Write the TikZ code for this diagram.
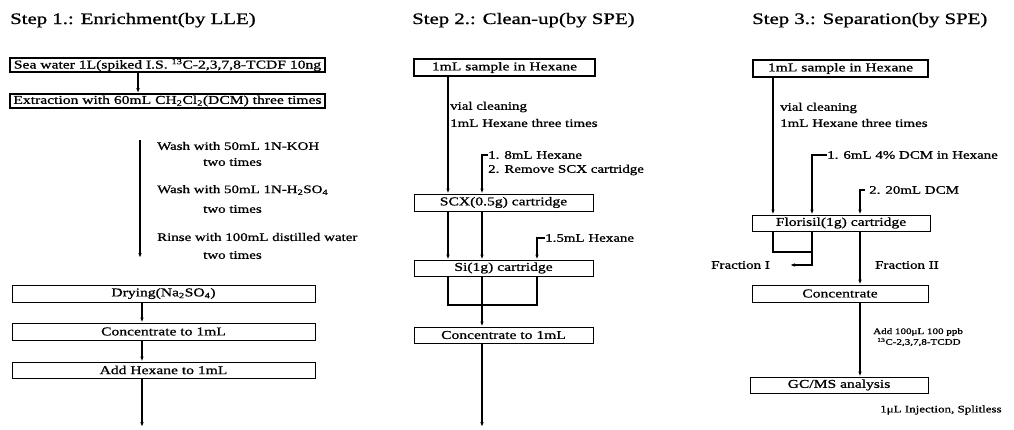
\documentclass[tikz,border=0pt]{standalone}
\usepackage{fontspec}
\setmainfont{Liberation Serif}[FakeStretch=1.3,FakeBold=1]
\usetikzlibrary{arrows.meta}
\begin{document}
\begin{tikzpicture}[x=1pt,y=-1pt,
  box/.style={draw,line width=1pt,inner sep=0pt,font=\fontsize{12}{12}\selectfont},
  tbox/.style={box,line width=1.8pt},
  lbl/.style={inner sep=0pt,anchor=west,font=\fontsize{11.5}{12}\selectfont},
  small/.style={inner sep=0pt,anchor=west,font=\fontsize{8.5}{9}\selectfont},
  ttl/.style={inner sep=0pt,anchor=base west,font=\fontsize{16}{16}\selectfont},
  ln/.style={line width=1.4pt},
  arr/.style={ln,-{Latex[length=5pt,width=3.6pt]}}]
\useasboundingbox (0,0) rectangle (1014,429);
% column coordinates
\coordinate (X138) at (138,0);
\coordinate (X142) at (142,0);
\coordinate (C2a) at (448,0);
\coordinate (C2b) at (482,0);
\coordinate (C2c) at (537,0);
\coordinate (C3a) at (773,0);
\coordinate (C3b) at (812,0);
\coordinate (C3c) at (860,0);
\coordinate (J) at (0,305);
\coordinate (K) at (0,252);
% ---------- Step 1
\node[ttl] (t1) at (10,24) {Step 1.: Enrichment(by LLE)};
\node[tbox,minimum width=315pt,minimum height=14pt] (s1a) at (167.5,65)
  {Sea water 1L(spiked I.S. \textsuperscript{13}C-2,3,7,8-TCDF 10ng};
\node[tbox,minimum width=315pt,minimum height=14pt] (s1b) at (167.5,101)
  {Extraction with 60mL CH\textsubscript{2}Cl\textsubscript{2}(DCM) three times};
\coordinate (w1) at (140,140);
\coordinate (w2) at (140,258);
\node[lbl] (wa1) at (157,146) {Wash with 50mL 1N-KOH};
\node[lbl] (wa2) at (203,162) {two times};
\node[lbl] (wb1) at (157,190) {Wash with 50mL 1N-H\textsubscript{2}SO\textsubscript{4}};
\node[lbl] (wb2) at (203,209) {two times};
\node[lbl] (wc1) at (157,237) {Rinse with 100mL distilled water};
\node[lbl] (wc2) at (203,255) {two times};
\node[box,minimum width=303pt,minimum height=17pt] (dry) at (163.5,293.5) {Drying(Na\textsubscript{2}SO\textsubscript{4})};
\node[box,minimum width=303pt,minimum height=17pt] (conc1) at (163.5,331.5) {Concentrate to 1mL};
\node[box,minimum width=303pt,minimum height=16pt] (hex1) at (163.5,370) {Add Hexane to 1mL};
\coordinate (e1) at (142,427);
\draw[arr] (s1a.south -| X138) -- (s1b.north -| X138);
\draw[arr] (w1) -- (w2);
\draw[arr] (dry.south -| X142) -- (conc1.north -| X142);
\draw[arr] (conc1.south -| X142) -- (hex1.north -| X142);
\draw[arr] (hex1.south -| X142) -- (e1);
% ---------- Step 2
\node[ttl] (t2) at (412,24) {Step 2.: Clean-up(by SPE)};
\node[tbox,minimum width=181pt,minimum height=17pt] (s2a) at (504.5,67.5) {1mL sample in Hexane};
\node[lbl] (v2a) at (450,107) {vial cleaning};
\node[lbl] (v2b) at (450,123) {1mL Hexane three times};
\node[lbl] (l1a) at (488,155) {1. 8mL Hexane};
\node[lbl] (l1b) at (488,170) {2. Remove SCX cartridge};
\node[box,minimum width=179pt,minimum height=17pt] (scx) at (503.5,202.5) {SCX(0.5g) cartridge};
\node[lbl] (l2) at (545,238) {1.5mL Hexane};
\node[box,minimum width=179pt,minimum height=16pt] (si) at (503.5,268) {Si(1g) cartridge};
\node[box,minimum width=179pt,minimum height=16pt] (conc2) at (503.5,335) {Concentrate to 1mL};
\coordinate (e2) at (482,427);
\draw[arr] (s2a.south -| C2a) -- (scx.north -| C2a);
\draw[arr] (l1a.west) -| (scx.north -| C2b);
\draw[arr] (scx.south -| C2a) -- (si.north -| C2a);
\draw[arr] (scx.south -| C2b) -- (si.north -| C2b);
\draw[arr] (l2.west) -| (si.north -| C2c);
\draw[ln] (si.south -| C2a) -- (C2a |- J) -- (C2c |- J) -- (si.south -| C2c);
\draw[arr] (si.south -| C2b) -- (conc2.north -| C2b);
\draw[arr] (conc2.south -| C2b) -- (e2);
% ---------- Step 3
\node[ttl] (t3) at (752,24) {Step 3.: Separation(by SPE)};
\node[tbox,minimum width=175pt,minimum height=17pt] (s3a) at (840.5,68.5) {1mL sample in Hexane};
\node[lbl] (v3a) at (780,108) {vial cleaning};
\node[lbl] (v3b) at (780,123) {1mL Hexane three times};
\node[lbl] (m1) at (827,155) {1. 6mL 4\% DCM in Hexane};
\node[lbl] (m2) at (869,190) {2. 20mL DCM};
\node[box,minimum width=178pt,minimum height=16pt] (flo) at (841,223) {Florisil(1g) cartridge};
\node[lbl,anchor=east] (fr1) at (770,265) {Fraction I};
\node[lbl] (fr2) at (875,265) {Fraction II};
\node[box,minimum width=176pt,minimum height=17pt] (conc3) at (840,293.5) {Concentrate};
\node[small] (ad1) at (873,332) {Add 100μL 100 ppb};
\node[small] (ad2) at (877,342) {\textsuperscript{13}C-2,3,7,8-TCDD};
\node[box,minimum width=178pt,minimum height=16pt] (gcms) at (839,385) {GC/MS analysis};
\node[small,font=\fontsize{10}{10}\selectfont] (inj) at (880,410) {1μL Injection, Splitless};
\draw[arr] (s3a.south -| C3a) -- (flo.north -| C3a);
\draw[arr] (m1.west) -| (flo.north -| C3b);
\draw[arr] ([xshift=-4pt]m2.west) -| (flo.north -| C3c);
\draw[ln] (flo.south -| C3a) -- (C3a |- K) -- (C3b |- K);
\draw[arr,shorten >=20pt] (flo.south -| C3b) |- (fr1.east);
\draw[arr] (flo.south -| C3c) -- (conc3.north -| C3c);
\draw[arr] (conc3.south -| C3c) -- (gcms.north -| C3c);
\end{tikzpicture}
\end{document}
